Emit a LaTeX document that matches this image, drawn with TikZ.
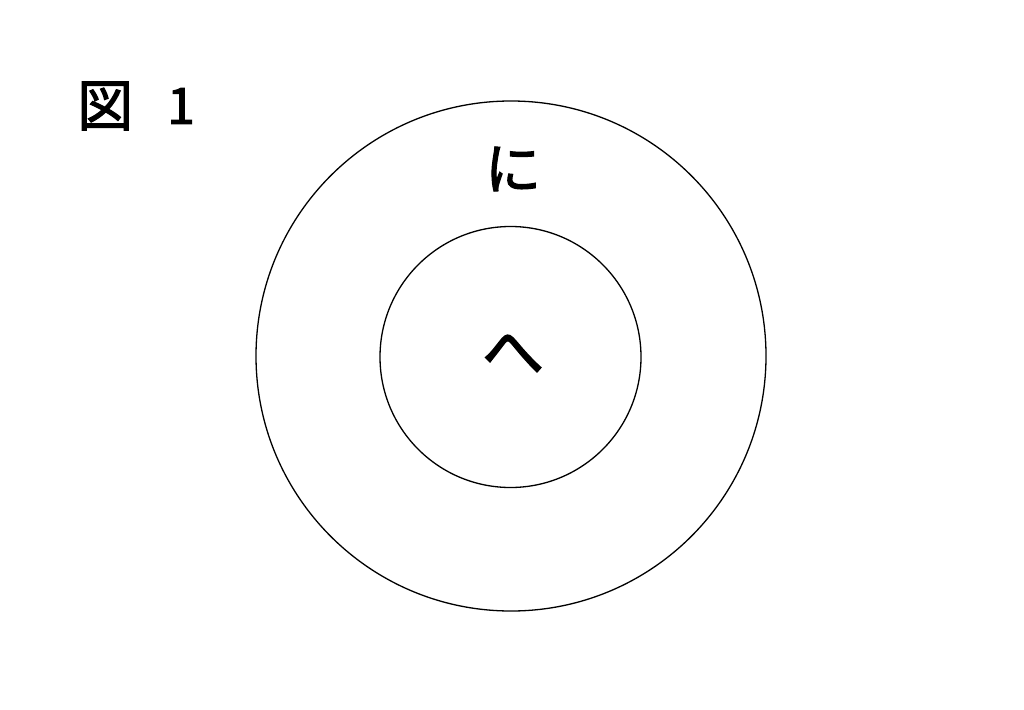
\documentclass[tikz,border=0pt]{standalone}
\usepackage{fontspec}
\newfontfamily\cjk[BoldFont={Noto Sans CJK JP},BoldFeatures={FakeBold=2}]{Noto Sans CJK JP}
\tikzset{ring/.style={draw=black,line width=1.3pt,circle},
  lbl/.style={font=\cjk\bfseries\fontsize{56}{60}\selectfont,inner sep=0pt}}
\begin{document}
\begin{tikzpicture}[x=1pt,y=-1pt]
\useasboundingbox[fill=white] (0,0) rectangle (1024,709);
\node[ring,minimum size=510pt,inner sep=0pt] (outer) at (511,356) {};
\node[ring,minimum size=261pt,inner sep=0pt] (inner) at (510.5,357) {};
\node[lbl] (ni) at (513,169) {に};
\node[lbl,font=\cjk\bfseries\fontsize{62}{66}\selectfont] (he) at (513,354) {へ};
\node[lbl,anchor=west] (zu) at (77,106) {図};
\node[lbl,font=\cjk\bfseries\fontsize{50}{54}\selectfont] (one) at (181,106) {1};
\end{tikzpicture}
\end{document}
